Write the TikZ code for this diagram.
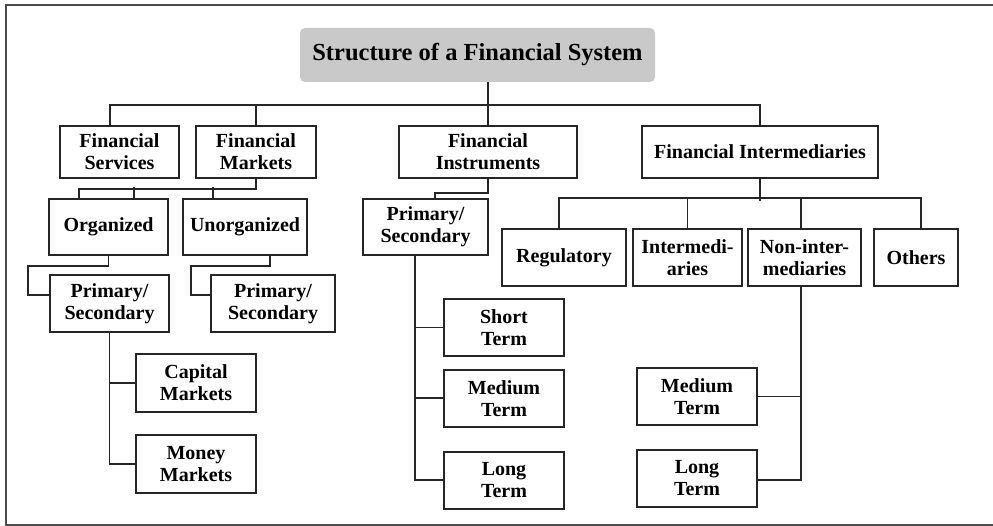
\documentclass[tikz,border=0pt]{standalone}
\usepackage{fontspec}
\setmainfont{Liberation Serif}
\usetikzlibrary{positioning}

\begin{document}
\begin{tikzpicture}[
    x=1pt, y=-1pt,
    box/.style={
      draw=black!85, line width=1.9pt, fill=white,
      align=center, inner sep=0pt, minimum height=57pt,
      font=\fontsize{20}{22}\selectfont\bfseries
    },
    topbox/.style={box, minimum height=52pt},
    head/.style={
      fill=black!21, rounded corners=5pt, inner sep=0pt,
      minimum width=355pt, minimum height=54pt,
      font=\fontsize{24.5}{27}\selectfont\bfseries
    },
    link/.style={draw=black!85, line width=1.9pt},
    frame/.style={draw=black!70, line width=1.2pt},
  ]
    \useasboundingbox (0,0) rectangle (993,526);
    \draw[frame] (993,5) -- (6,5) -- (6,525) -- (993,525);

    \node[head] (title) at (477.5,55) {Structure of a Financial System};

    \node[topbox, minimum width=119pt] (serv) at (119.5,152) {Financial\\Services};
    \node[topbox, minimum width=120pt] (mkts) at (256,152) {Financial\\Markets};
    \node[topbox, minimum width=178pt] (instr) at (488,152) {Financial\\Instruments};
    \node[topbox, minimum width=236pt] (interm) at (760,152) {Financial Intermediaries};

    \node[box, minimum width=119pt, minimum height=56pt] (org) at (108.5,227) {Organized};
    \node[box, minimum width=124pt, minimum height=56pt] (unorg) at (245,227) {Unorganized};
    \node[box, minimum width=125pt, minimum height=56pt] (ps3) at (425.5,227) {Primary/\\Secondary};
    \node[box, minimum width=119pt] (ps1) at (109.5,303.5) {Primary/\\Secondary};
    \node[box, minimum width=124pt] (ps2) at (273,303.5) {Primary/\\Secondary};
    \node[box, minimum width=120pt, minimum height=58pt] (cap) at (196,383) {Capital\\Markets};
    \node[box, minimum width=120pt, minimum height=58pt, below=21pt of cap] (money) {Money\\Markets};

    \node[box, minimum width=120pt] (short) at (504,327.5) {Short\\Term};
    \node[box, minimum width=120pt, below=12pt of short] (med) {Medium\\Term};
    \node[box, minimum width=120pt, below=23pt of med] (long) {Long\\Term};

    \node[box, minimum width=124pt] (reg) at (564,257.5) {Regulatory};
    \node[box, minimum width=109pt] (inmd) at (687.5,257.5) {Intermedi-\\aries};
    \node[box, minimum width=113pt] (nonin) at (804.5,257.5) {Non-inter-\\mediaries};
    \node[box, minimum width=84pt] (other) at (916,257.5) {Others};
    \node[box, minimum width=120pt] (med2) at (697,396.5) {Medium\\Term};
    \node[box, minimum width=120pt, below=23pt of med2] (long2) {Long\\Term};

    % first level
    \draw[link] ([xshift=10.5pt]title.south) -- ++(0,24);
    \draw[link] ([xshift=-9.5pt]serv.north) -- ++(0,-20) -| (interm.north);
    \draw[link] (mkts.north) -- ++(0,-20);
    \draw[link] (instr.north) -- ++(0,-20);

    % markets branch
    \draw[link] (mkts.south) -- ++(0,10) -| ([xshift=-29.5pt]org.north);
    \draw[link] ([xshift=25.5pt]org.north) -- ++(0,-11);
    \draw[link] ([xshift=-32pt]unorg.north) -- ++(0,-11);
    \draw[link] (org.south) -- ++(0,10) -- ++(-80.5,0) |- ([yshift=8.5pt]ps1.west);
    \draw[link] ([xshift=25pt]unorg.south) -- ++(0,10) -- ++(-79,0) |- ([yshift=8.5pt]ps2.west);
    \draw[link] (ps1.south) |- (money.west);
    \draw[link] (cap.west) -- (cap.west -| ps1.south);

    % instruments branch
    \draw[link] (instr.south) -- ++(0,14) -| ([xshift=9.5pt]ps3.north);
    \coordinate (stem) at ([xshift=-10.5pt]ps3.south);
    \draw[link] (stem) |- (long.west);
    \draw[link] (short.west) -- (short.west -| stem);
    \draw[link] (med.west) -- (med.west -| stem);

    % intermediaries branch
    \draw[link] (interm.south) -- ++(0,22);
    \draw[link] ([xshift=-5pt]reg.north) -- ++(0,-30) -| ([xshift=5pt]other.north);
    \draw[link] (inmd.north) -- ++(0,-30);
    \draw[link] ([xshift=-3.5pt]nonin.north) -- ++(0,-30);
    \coordinate (stem2) at ([xshift=-3.5pt]nonin.south);
    \draw[link] (stem2) |- ([yshift=-2pt]long2.east);
    \draw[link] (med2.east) -- (med2.east -| stem2);
\end{tikzpicture}
\end{document}
